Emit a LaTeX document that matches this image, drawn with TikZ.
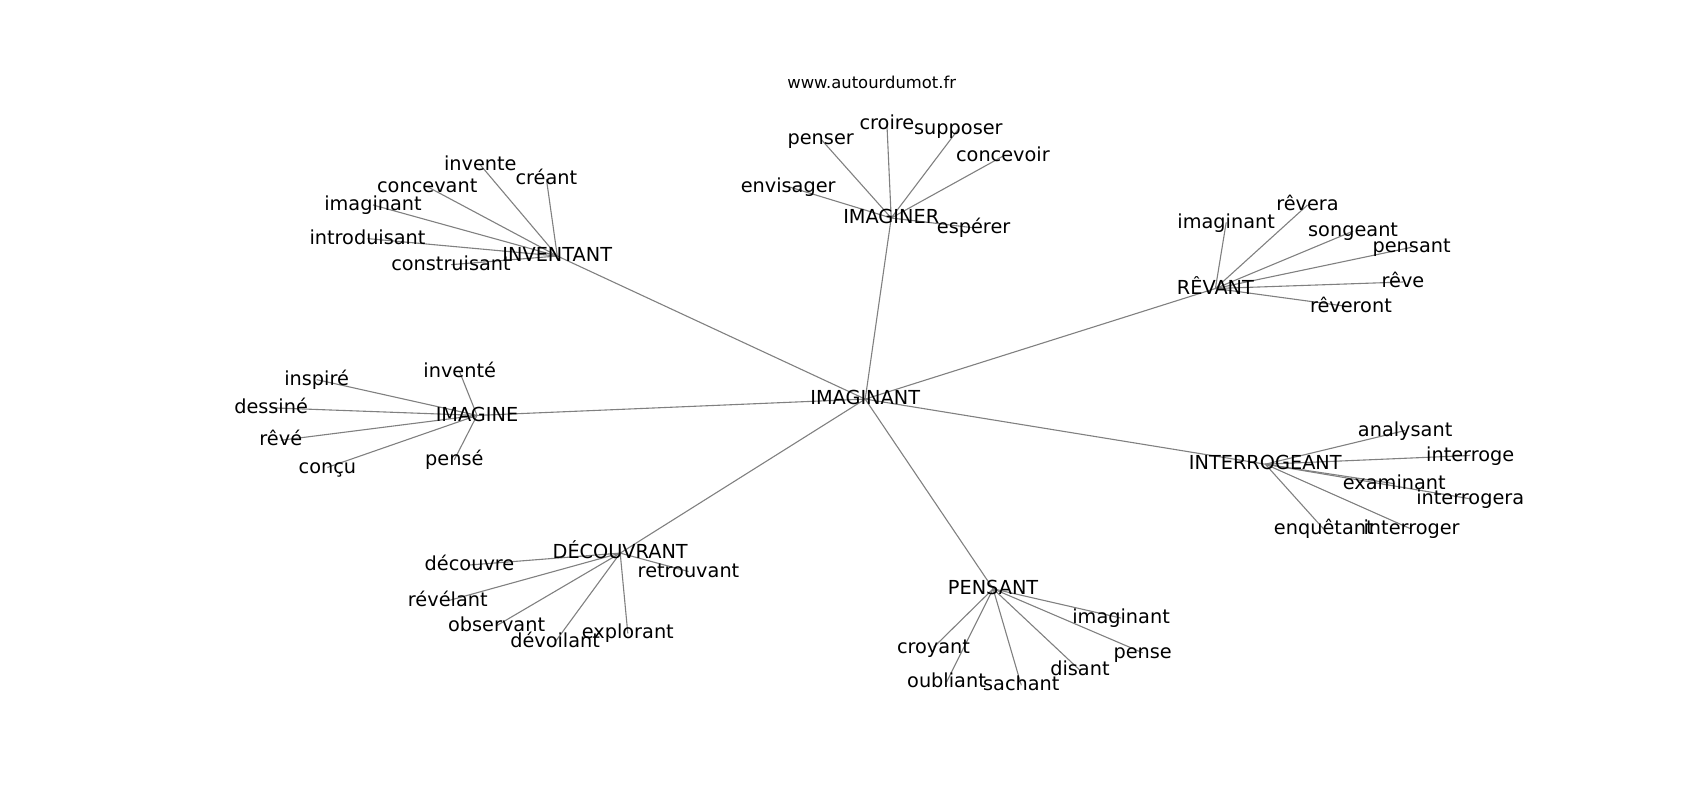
\documentclass[tikz,border=0pt]{standalone}
\usepackage{fontspec}
\setmainfont{DejaVu Sans}
\tikzset{
  lbl/.style={anchor=base, yshift=-5.6pt, inner sep=0pt, font=\fontsize{19.3}{22}\selectfont, text=black},
  ttl/.style={anchor=base, inner sep=0pt, font=\fontsize{16.4}{19}\selectfont, text=black},
  edge/.style={draw=gray, line width=1.1pt}
}
\newcommand\wnode[4]{\coordinate (#1) at (#2,#3);}
\newcommand\wlabel[4]{\node[lbl] (#1-t) at (#1) {#4};}
\newcommand\allnodes[1]{%
#1{c}{865.2}{399.1}{IMAGINANT}
#1{inv}{557.3}{256.0}{INVENTANT}
#1{imr}{891.2}{218.0}{IMAGINER}
#1{rev}{1215.4}{288.5}{RÊVANT}
#1{ime}{477.0}{415.4}{IMAGINE}
#1{itg}{1265.3}{464.2}{INTERROGEANT}
#1{dec}{620.2}{553.1}{DÉCOUVRANT}
#1{pen}{993.1}{588.8}{PENSANT}
#1{inv1}{480.3}{164.9}{invente}
#1{inv2}{546.4}{179.0}{créant}
#1{inv3}{427.2}{186.6}{concevant}
#1{inv4}{373.0}{205.0}{imaginant}
#1{inv5}{367.5}{238.6}{introduisant}
#1{inv6}{451.0}{264.7}{construisant}
#1{imr1}{820.7}{138.9}{penser}
#1{imr2}{886.9}{123.7}{croire}
#1{imr3}{958.4}{129.1}{supposer}
#1{imr4}{1002.9}{156.2}{concevoir}
#1{imr5}{788.2}{186.6}{envisager}
#1{imr6}{973.6}{227.8}{espérer}
#1{rev1}{1226.2}{222.4}{imaginant}
#1{rev2}{1307.5}{205.0}{rêvera}
#1{rev3}{1353.1}{231.1}{songeant}
#1{rev4}{1411.6}{247.3}{pensant}
#1{rev5}{1403.0}{282.0}{rêve}
#1{rev6}{1350.9}{306.9}{rêveront}
#1{ime1}{316.6}{379.6}{inspiré}
#1{ime2}{459.7}{372.0}{inventé}
#1{ime3}{271.1}{407.8}{dessiné}
#1{ime4}{280.8}{440.3}{rêvé}
#1{ime5}{327.4}{467.4}{conçu}
#1{ime6}{454.3}{459.8}{pensé}
#1{itg1}{1405.1}{430.5}{analysant}
#1{itg2}{1470.2}{455.5}{interroge}
#1{itg3}{1394.3}{483.7}{examinant}
#1{itg4}{1470.2}{498.8}{interrogera}
#1{itg5}{1323.8}{529.2}{enquêtant}
#1{itg6}{1411.6}{529.2}{interroger}
#1{dec1}{469.5}{565.0}{découvre}
#1{dec2}{688.5}{571.5}{retrouvant}
#1{dec3}{447.8}{600.8}{révélant}
#1{dec4}{496.6}{625.7}{observant}
#1{dec5}{555.1}{642.0}{dévoilant}
#1{dec6}{627.8}{633.3}{explorant}
#1{pen1}{1121.1}{618.1}{imaginant}
#1{pen2}{933.5}{647.4}{croyant}
#1{pen3}{1142.7}{652.8}{pense}
#1{pen4}{1079.9}{670.2}{disant}
#1{pen5}{946.5}{682.1}{oubliant}
#1{pen6}{1021.3}{685.3}{sachant}
}
\begin{document}
\begin{tikzpicture}[x=1pt, y=-1pt]
\useasboundingbox (0,0) rectangle (1700,800);
\allnodes\wnode
\foreach \h in {inv,imr,rev,ime,itg,dec,pen} {
  \draw[edge] (c) -- (\h);
  \foreach \i in {1,...,6} { \draw[edge] (\h) -- (\h\i); }
}
\allnodes\wlabel
\node[ttl] (title) at (871.7,88.8) {www.autourdumot.fr};
\end{tikzpicture}
\end{document}
